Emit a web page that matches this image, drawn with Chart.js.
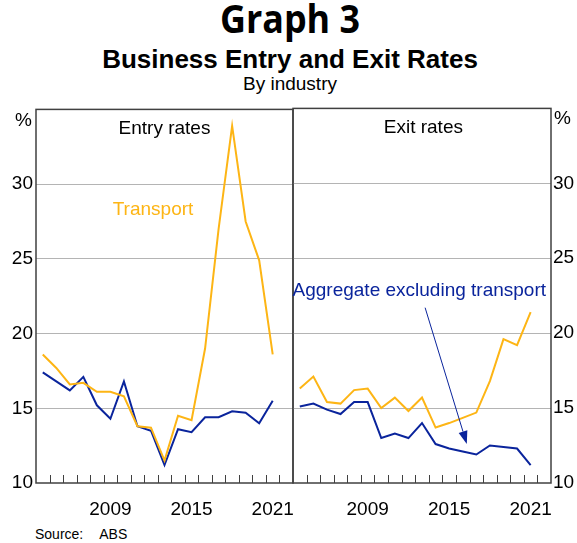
<!DOCTYPE html>
<html>
<head>
<meta charset="utf-8">
<script src="https://cdn.jsdelivr.net/npm/chart.js@4.4.1/dist/chart.umd.min.js"></script>
<style>
  body { margin: 0; background: #fff; }
  #wrap { position: relative; width: 577px; height: 543px; overflow: hidden; font-family: "Liberation Sans", Arial, sans-serif; color: #000; }
  .t { position: absolute; left: 0; width: 580px; text-align: center; white-space: nowrap; }
  #g3 { top: -2px; font: 700 39px/39px "Open Sans", sans-serif; transform: scaleX(0.92); }
  #sub { top: 46px; font: 700 26px/26px "Liberation Sans", Arial, sans-serif; }
  #by { top: 74px; font: 19px/19px "Liberation Sans", Arial, sans-serif; }
  #src { position: absolute; left: 35px; top: 527px; font: 14px/14px "Liberation Sans", Arial, sans-serif; }
  canvas { position: absolute; top: 95px; }
  #left { left: 0; }
  #right { left: 292px; }
</style>
</head>
<body>
<div id="wrap">
  <div class="t" id="g3">Graph 3</div>
  <div class="t" id="sub">Business Entry and Exit Rates</div>
  <div class="t" id="by">By industry</div>
  <canvas id="left" width="295" height="430"></canvas>
  <canvas id="right" width="285" height="430"></canvas>
  <div id="src">Source:<span style="margin-left:16px">ABS</span></div>
</div>
<script>
// years on the axis (last one has no data yet)
const years = ['2004','2005','2006','2007','2008','2009','2010','2011','2012','2013',
               '2014','2015','2016','2017','2018','2019','2020','2021','2022'];
const shownYears = ['2009', '2015', '2021'];

// entry rates, %
const entryTransport = [18.6, 17.7, 16.6, 16.7, 16.1, 16.1, 15.8, 13.8, 13.7, 11.5, 14.5, 14.2, 19.0, 27.0, 33.9, 27.5, 24.9, 18.6];
const entryAggregate = [17.4, 16.8, 16.2, 17.1, 15.2, 14.3, 16.8, 13.8, 13.5, 11.2, 13.6, 13.4, 14.4, 14.4, 14.8, 14.7, 14.0, 15.5];

// exit rates, %
const exitTransport = [16.3, 17.1, 15.4, 15.3, 16.2, 16.3, 15.0, 15.7, 14.8, 15.7, 13.7, 14.0, 14.35, 14.7, 16.8, 19.6, 19.2, 21.4];
const exitAggregate = [15.1, 15.3, 14.9, 14.6, 15.4, 15.4, 13.0, 13.3, 13.0, 14.0, 12.6, 12.3, 12.1, 11.9, 12.5, 12.4, 12.3, 11.2];

const yTicks = [10, 15, 20, 25, 30, 35];

const ORANGE = '#fdb515';
const BLUE = '#0a249c';
const FRAME = '#404040';
const FONT = '"Liberation Sans", Arial, sans-serif';
const FSIZE = 19;

// frame, inner tick marks, panel title, labels and arrow
const framePlugin = {
  id: 'frame',
  afterDraw(chart, args, opts) {
    const { ctx, chartArea: a } = chart;
    const x = chart.scales.x, y = chart.scales.y;
    ctx.save();
    ctx.strokeStyle = FRAME;
    ctx.lineWidth = 1;
    for (let i = 1; i < years.length; i++) {
      const px = Math.round(x.getPixelForValue(i - 0.5)) + 0.5;
      ctx.beginPath();
      ctx.moveTo(px, a.bottom);
      ctx.lineTo(px, a.bottom - 8);
      ctx.stroke();
    }
    ctx.lineWidth = 1.5;
    ctx.strokeRect(a.left, a.top, a.right - a.left, a.bottom - a.top);

    ctx.font = FSIZE + 'px ' + FONT;
    ctx.textBaseline = 'middle';
    // "%" unit label
    ctx.fillStyle = '#000';
    if (opts.side === 'left') {
      ctx.textAlign = 'right';
      ctx.fillText('%', a.left - 4, y.getPixelForValue(35) + 11);
    } else {
      ctx.textAlign = 'left';
      ctx.fillText('%', a.right + 3, y.getPixelForValue(35) + 10);
    }
    ctx.textAlign = 'center';
    (opts.notes || []).forEach(n => {
      ctx.fillStyle = n.color;
      ctx.fillText(n.text, x.getPixelForValue(n.at[0]), y.getPixelForValue(n.at[1]));
    });
    if (opts.arrow) {
      const x0 = x.getPixelForValue(opts.arrow.from[0]), y0 = y.getPixelForValue(opts.arrow.from[1]);
      const x1 = x.getPixelForValue(opts.arrow.to[0]), y1 = y.getPixelForValue(opts.arrow.to[1]);
      const ang = Math.atan2(y1 - y0, x1 - x0);
      const len = 13, half = 4.5;
      const bx = x1 - len * Math.cos(ang), by = y1 - len * Math.sin(ang);
      ctx.strokeStyle = BLUE;
      ctx.fillStyle = BLUE;
      ctx.lineWidth = 1;
      ctx.beginPath();
      ctx.moveTo(x0, y0);
      ctx.lineTo(bx, by);
      ctx.stroke();
      ctx.beginPath();
      ctx.moveTo(x1, y1);
      ctx.lineTo(bx + half * Math.sin(ang), by - half * Math.cos(ang));
      ctx.lineTo(bx - half * Math.sin(ang), by + half * Math.cos(ang));
      ctx.closePath();
      ctx.fill();
    }
    ctx.restore();
  }
};

function makePanel(id, side, transport, aggregate, frameOpts) {
  return new Chart(document.getElementById(id), {
    type: 'line',
    data: {
      labels: years,
      datasets: [
        { data: transport, borderColor: ORANGE, borderWidth: 2, pointRadius: 0, tension: 0 },
        { data: aggregate, borderColor: BLUE, borderWidth: 2, pointRadius: 0, tension: 0 }
      ]
    },
    options: {
      responsive: false,
      animation: false,
      layout: { padding: side === 'left' ? { top: 7, right: 2, left: 0, bottom: 0 } : { top: 7, right: 0, left: 1, bottom: 0 } },
      plugins: { legend: { display: false }, tooltip: { enabled: false }, frame: frameOpts },
      scales: {
        x: {
          offset: true,
          grid: { display: false },
          border: { display: false },
          ticks: {
            autoSkip: false, maxRotation: 0, padding: 7, color: '#000',
            font: { family: FONT, size: FSIZE },
            callback: function (v) { const l = this.getLabelForValue(v); return shownYears.includes(l) ? l : ''; }
          },
          afterFit: s => { s.height = 42; }
        },
        y: {
          position: side,
          min: 10, max: 35,
          afterBuildTicks: s => { s.ticks = yTicks.map(v => ({ value: v })); },
          grid: {
            drawTicks: false,
            color: c => (c.tick.value === 10 || c.tick.value === 35) ? 'rgba(0,0,0,0)' : '#b4b4b4',
            lineWidth: 1
          },
          border: { display: false },
          ticks: {
            padding: side === 'left' ? 3 : 2, color: '#000',
            font: { family: FONT, size: FSIZE },
            callback: v => v === 35 ? '' : v
          },
          afterFit: s => { s.width = side === 'left' ? 36 : 26; }
        }
      }
    },
    plugins: [framePlugin]
  });
}

makePanel('left', 'left', entryTransport, entryAggregate, {
  side: 'left',
  notes: [
    { text: 'Entry rates', color: '#000', at: [9.0, 33.7] },
    { text: 'Transport', color: ORANGE, at: [8.15, 28.3] }
  ]
});

makePanel('right', 'right', exitTransport, exitAggregate, {
  side: 'right',
  notes: [
    { text: 'Exit rates', color: '#000', at: [9.1, 33.7] },
    { text: 'Aggregate excluding transport', color: BLUE, at: [8.8, 22.8] }
  ],
  arrow: { from: [9.23, 21.7], to: [12.3, 12.6] }
});
</script>
</body>
</html>
